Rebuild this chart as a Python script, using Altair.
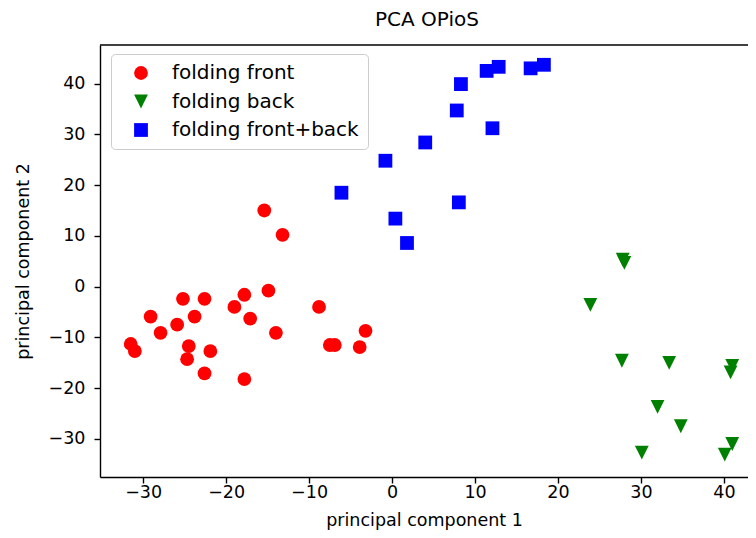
import altair as alt
import pandas as pd

# ---- data ----
front_x = [-15.4, -13.2, -25.2, -22.6, -17.8, -14.9, -19.0, -8.8, -29.1, -23.8, -17.1, -25.9,
           -27.9, -14.0, -3.2, -31.5, -31.0, -24.5, -21.9, -24.7, -7.5, -6.9, -3.9, -22.6, -17.8]
front_y = [15.0, 10.2, -2.4, -2.4, -1.6, -0.8, -4.0, -4.0, -5.9, -5.9, -6.3, -7.5,
           -9.1, -9.1, -8.7, -11.3, -12.7, -11.7, -12.7, -14.3, -11.5, -11.5, -11.9, -17.1, -18.2]

back_x = [27.8, 28.0, 23.9, 27.7, 33.4, 41.0, 40.8, 32.0, 34.8, 30.1, 41.0, 40.1]
back_y = [5.3, 4.7, -3.6, -14.6, -15.0, -15.6, -16.9, -23.7, -27.5, -32.7, -31.0, -33.1]

fb_x = [11.4, 12.85, 16.7, 18.3, 8.3, 7.8, 12.1, 4.0, -0.8, -6.1, 8.05, 0.4, 1.8]
fb_y = [42.5, 43.3, 43.0, 43.7, 39.9, 34.7, 31.2, 28.4, 24.8, 18.5, 16.6, 13.4, 8.6]

groups = ["folding front", "folding back", "folding front+back"]
colors = ["#ff0000", "#008000", "#0000ff"]
shapes = ["circle", "M-1,-1L1,-1L0,1Z", "square"]

x_ticks = [-30, -20, -10, 0, 10, 20, 30, 40]
y_ticks = [-30, -20, -10, 0, 10, 20, 30, 40]

rows = []
for g, xs, ys in zip(groups, [front_x, back_x, fb_x], [front_y, back_y, fb_y]):
    for a, b in zip(xs, ys):
        rows.append({"pc1": a, "pc2": b, "target": g})
df = pd.DataFrame(rows)

FONT = "DejaVu Sans"

points = alt.Chart(df).mark_point(filled=True, opacity=1, size=190, clip=True).encode(
    x=alt.X("pc1:Q", title="principal component 1",
            scale=alt.Scale(domain=[-35.2, 42.9], nice=False, zero=False),
            axis=alt.Axis(values=x_ticks, grid=False, tickSize=6, labelPadding=0,
                          titlePadding=11, format="d")),
    y=alt.Y("pc2:Q", title="principal component 2",
            scale=alt.Scale(domain=[-37.5, 47.6], nice=False, zero=False),
            axis=alt.Axis(values=y_ticks, grid=False, tickSize=6, labelPadding=9,
                          titlePadding=16, format="d")),
    color=alt.Color("target:N", scale=alt.Scale(domain=groups, range=colors),
                    legend=alt.Legend(title=None, orient="none", legendX=11, legendY=9,
                                      labelFontSize=20, labelFont=FONT, labelColor="#000000",
                                      labelLimit=400,
                                      symbolSize=190, padding=9, rowPadding=8.5,
                                      symbolOffset=11, labelOffset=21,
                                      strokeColor="#cccccc", fillColor="rgba(255,255,255,0.8)",
                                      cornerRadius=4)),
    shape=alt.Shape("target:N", scale=alt.Scale(domain=groups, range=shapes), legend=None),
)

top_spine = alt.Chart(pd.DataFrame({"k": [0]})).mark_rule(color="black", strokeWidth=1.4).encode(
    x=alt.value(0), x2=alt.value(650), y=alt.value(0)
)

chart = alt.layer(points, top_spine).properties(
    width=648, height=432,
    autosize=alt.AutoSizeParams(type="none"),
    padding={"left": 92, "top": 37, "right": 0, "bottom": 53},
    title=alt.TitleParams("PCA OPioS", fontSize=20, font=FONT, fontWeight="normal",
                          color="#000000", offset=14, anchor="middle", dx=3),
).configure_view(stroke=None).configure_axis(
    domainColor="#000000", domainWidth=1.4, tickColor="#000000", tickWidth=1.4,
    labelFont=FONT, labelFontSize=17.5, labelColor="#000000",
    titleFont=FONT, titleFontSize=17.5, titleColor="#000000", titleFontWeight="normal",
)

chart.save("out.html", embed_options={"renderer": "svg", "actions": False})
